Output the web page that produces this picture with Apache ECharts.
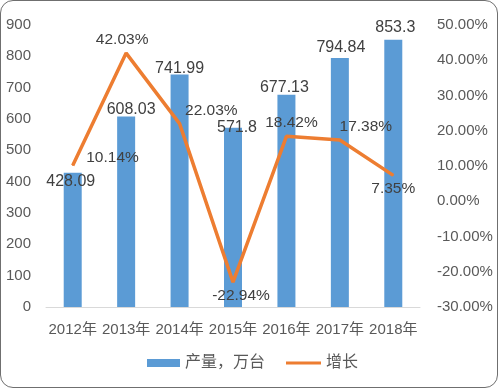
<!DOCTYPE html>
<html><head><meta charset="utf-8">
<script src="https://cdn.jsdelivr.net/npm/echarts@6/dist/echarts.min.js"></script>
<style>
html,body{margin:0;padding:0;background:#fff;}
#c{position:absolute;left:0;top:0;width:498px;height:388px;box-sizing:border-box;border:1px solid #6f6f6f;border-radius:13px;overflow:hidden;}
</style></head>
<body><div id="c"></div>
<script>
const categories = ['2012年','2013年','2014年','2015年','2016年','2017年','2018年'];
const production = [428.09, 608.03, 741.99, 571.8, 677.13, 794.84, 853.3];
const growth = [10.14, 42.03, 22.03, -22.94, 18.42, 17.38, 7.35];
const seriesNames = ['产量，万台', '增长'];

const barLabelOffsets = [[-2,19],[5,3],[0,4],[4,10],[-2,3],[1,0],[2,-2]];
const lineLabelPos = ['right','top','right','bottom','top','top','bottom'];
const lineLabelOffsets = [[8,-8],[-4,0],[0,-13],[8,0],[5,0],[26,0],[0,0]];

const font = '"Liberation Sans", "Noto Sans CJK SC", sans-serif';
const chart = echarts.init(document.getElementById('c'), null, {renderer:'canvas'});
chart.setOption({
  animation:false,
  textStyle:{fontFamily:font},
  grid:{left:45, right:77, top:24, bottom:80},
  legend:[
    {left:146, top:354, padding:0, itemWidth:33, itemHeight:8,
     textStyle:{color:'#595959', fontSize:16, fontFamily:font},
     data:[{name:seriesNames[0], icon:'rect'}]},
    {left:285, top:354, padding:0, itemWidth:35, itemHeight:3,
     textStyle:{color:'#595959', fontSize:16, fontFamily:font},
     data:[{name:seriesNames[1], icon:'rect', itemStyle:{color:'#ED7D31'}}]}
  ],
  xAxis:{
    type:'category', data:categories,
    axisLine:{lineStyle:{color:'#d9d9d9', width:1}},
    axisTick:{show:false},
    axisLabel:{color:'#595959', fontSize:15, margin:15, interval:0, fontFamily:font}
  },
  yAxis:[
    {type:'value', min:0, max:900, interval:100, splitLine:{show:false},
     axisLine:{show:false}, axisTick:{show:false},
     axisLabel:{color:'#595959', fontSize:15, margin:15, fontFamily:font}},
    {type:'value', min:-30, max:50, interval:10, splitLine:{show:false},
     axisLine:{show:false}, axisTick:{show:false},
     axisLabel:{color:'#595959', fontSize:15, margin:17, align:'left', fontFamily:font,
       formatter: v => v.toFixed(2)+'%'}}
  ],
  series:[
    {name:seriesNames[0], type:'bar', barWidth:18, yAxisIndex:0,
     itemStyle:{color:'#5B9BD5'},
     data: production.map((v,i)=>({value:v, label:{offset:barLabelOffsets[i]}})),
     label:{show:true, position:'top', color:'#404040', fontSize:16, distance:2, fontFamily:font}},
    {name:seriesNames[1], type:'line', yAxisIndex:1, symbol:'circle', symbolSize:1, showSymbol:true,
     lineStyle:{color:'#ED7D31', width:3.5}, itemStyle:{color:'#ED7D31'},
     data: growth.map((v,i)=>({value:v, label:{position:lineLabelPos[i], offset:lineLabelOffsets[i]}})),
     label:{show:true, color:'#404040', fontSize:15.5, distance:5, fontFamily:font,
       formatter: p => Number(p.value).toFixed(2)+'%'}}
  ]
});
</script></body></html>
